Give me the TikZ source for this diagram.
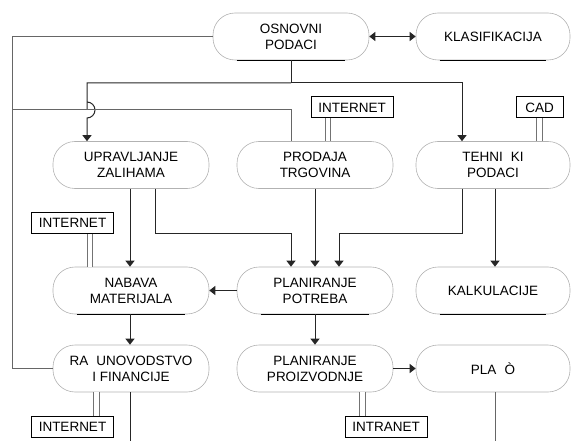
\documentclass[tikz,border=0pt]{standalone}
\usepackage{fontspec}
\setmainfont{Liberation Sans}
\usetikzlibrary{arrows.meta,calc}
\begin{document}
\begin{tikzpicture}[x=1pt,y=-1pt,
  proc/.style={draw=black!30, line width=0.6pt, rounded corners=22pt, minimum width=156pt, minimum height=47pt, inner sep=0pt, align=center, font=\fontsize{13.5}{16}\selectfont},
  tagbox/.style={draw=black, line width=1pt, minimum width=82pt, minimum height=21pt, inner sep=0pt, font=\fontsize{13.5}{15}\selectfont},
  arr/.style={draw=black!85, line width=1pt, -{Triangle[width=9pt,length=6pt]}},
  plain/.style={draw=black!60, line width=1pt},
  dbl/.style={draw=black!55, line width=0.8pt, double=white, double distance=4.5pt},
  uline/.style={draw=black, line width=1.1pt}]
\useasboundingbox (0,0) rectangle (573,441);
% nodes
\node[proc] (osn) at (291,36.5) {OSNOVNI\\PODACI};
\node[proc, minimum width=154pt] (klas) at (493,36.5) {KLASIFIKACIJA};
\node[proc] (upr) at (131,165) {UPRAVLJANJE\\ZALIHAMA};
\node[proc] (prod) at (315,165) {PRODAJA\\TRGOVINA};
\node[proc, minimum width=154pt] (teh) at (493,165) {TEHNI\hspace{0.6em}KI\\PODACI};
\node[proc] (nab) at (131,290.5) {NABAVA\\MATERIJALA};
\node[proc] (pp) at (315,290.5) {PLANIRANJE\\POTREBA};
\node[proc, minimum width=154pt] (kal) at (493,290.5) {KALKULACIJE};
\node[proc] (rac) at (131,368.5) {RA\hspace{0.6em}UNOVODSTVO\\I FINANCIJE};
\node[proc] (ppr) at (315,368.5) {PLANIRANJE\\PROIZVODNJE};
\node[proc, minimum width=154pt] (plan) at (493,368.5) {PLA\hspace{0.6em}Ò};
% tag boxes
\node[tagbox] (netA) at (352,107.5) {INTERNET};
\node[tagbox, minimum width=47pt] (cad) at (539.5,107.5) {CAD};
\node[tagbox] (netB) at (72.5,223) {INTERNET};
\node[tagbox] (netC) at (72.5,426.5) {INTERNET};
\node[tagbox] (intra) at (386,426.5) {INTRANET};
% underlines
\foreach \n in {osn,klas,nab,pp,kal}{
  \draw[uline] ([xshift=24pt]\n.south west) -- ([xshift=-24pt]\n.south east);
}
% helper coordinates
\coordinate (b1) at (291,83);
\coordinate (b2) at (12,110);
\coordinate (lv) at (0,233);
\coordinate (Lx) at (12,0);
\coordinate (bot) at (0,441);
% top bus
\draw[arr] (osn.south) |- ([xshift=-31pt]teh.north |- b1) -- ([xshift=-31pt]teh.north);
\draw[arr] (b1) -- ([xshift=-44pt]upr.north |- b1) -- ([xshift=-44pt]upr.north |- b2) ++(0,-8) arc(-90:90:8) -- ([xshift=-44pt]upr.north);
% left bus
\draw[plain] (osn.west) -| (Lx |- rac.west) -- (rac.west);
\draw[plain] ([xshift=-24pt]prod.north) |- (b2);
% double arrow
\draw[draw=black!85, line width=1pt, {Triangle[width=9pt,length=6pt]}-{Triangle[width=9pt,length=6pt]}] (osn.east) -- (klas.west);
% row2 to row3
\draw[arr] ([xshift=-1pt]upr.south) -- ([xshift=-1pt]nab.north);
\draw[arr] ([xshift=24pt]upr.south) |- ([xshift=-24pt]pp.north |- lv) -- ([xshift=-24pt]pp.north);
\draw[arr] (prod.south) -- (pp.north);
\draw[arr] ([xshift=-31pt]teh.south) |- ([xshift=24pt]pp.north |- lv) -- ([xshift=24pt]pp.north);
\draw[arr] ([xshift=2pt]teh.south) -- ([xshift=2pt]kal.north);
\draw[arr] (pp.west) -- (nab.east);
% row3 to row4
\draw[arr] ([xshift=-1pt]nab.south) -- ([xshift=-1pt]rac.north);
\draw[arr] (pp.south) -- (ppr.north);
\draw[arr] (ppr.east) -- (plan.west);
% to bottom
\draw[draw=black!85, line width=1pt] ([xshift=-1pt]rac.south) -- ([xshift=-1pt]rac.south |- bot);
\draw[plain] ([xshift=2pt]plan.south) -- ([xshift=2pt]plan.south |- bot);
% double lines
\draw[dbl] ([xshift=-24pt]netA.south) -- ([xshift=-24pt]netA.south |- prod.north);
\draw[dbl] (cad.south) -- (cad.south |- teh.north);
\draw[dbl] ([xshift=17.5pt]netB.south) -- ([xshift=17.5pt]netB.south |- nab.north);
\draw[dbl] ([xshift=24pt]netC.north) -- ([xshift=24pt]netC.north |- rac.south);
\draw[dbl] ([xshift=-23.5pt]intra.north) -- ([xshift=-23.5pt]intra.north |- ppr.south);
\end{tikzpicture}
\end{document}
